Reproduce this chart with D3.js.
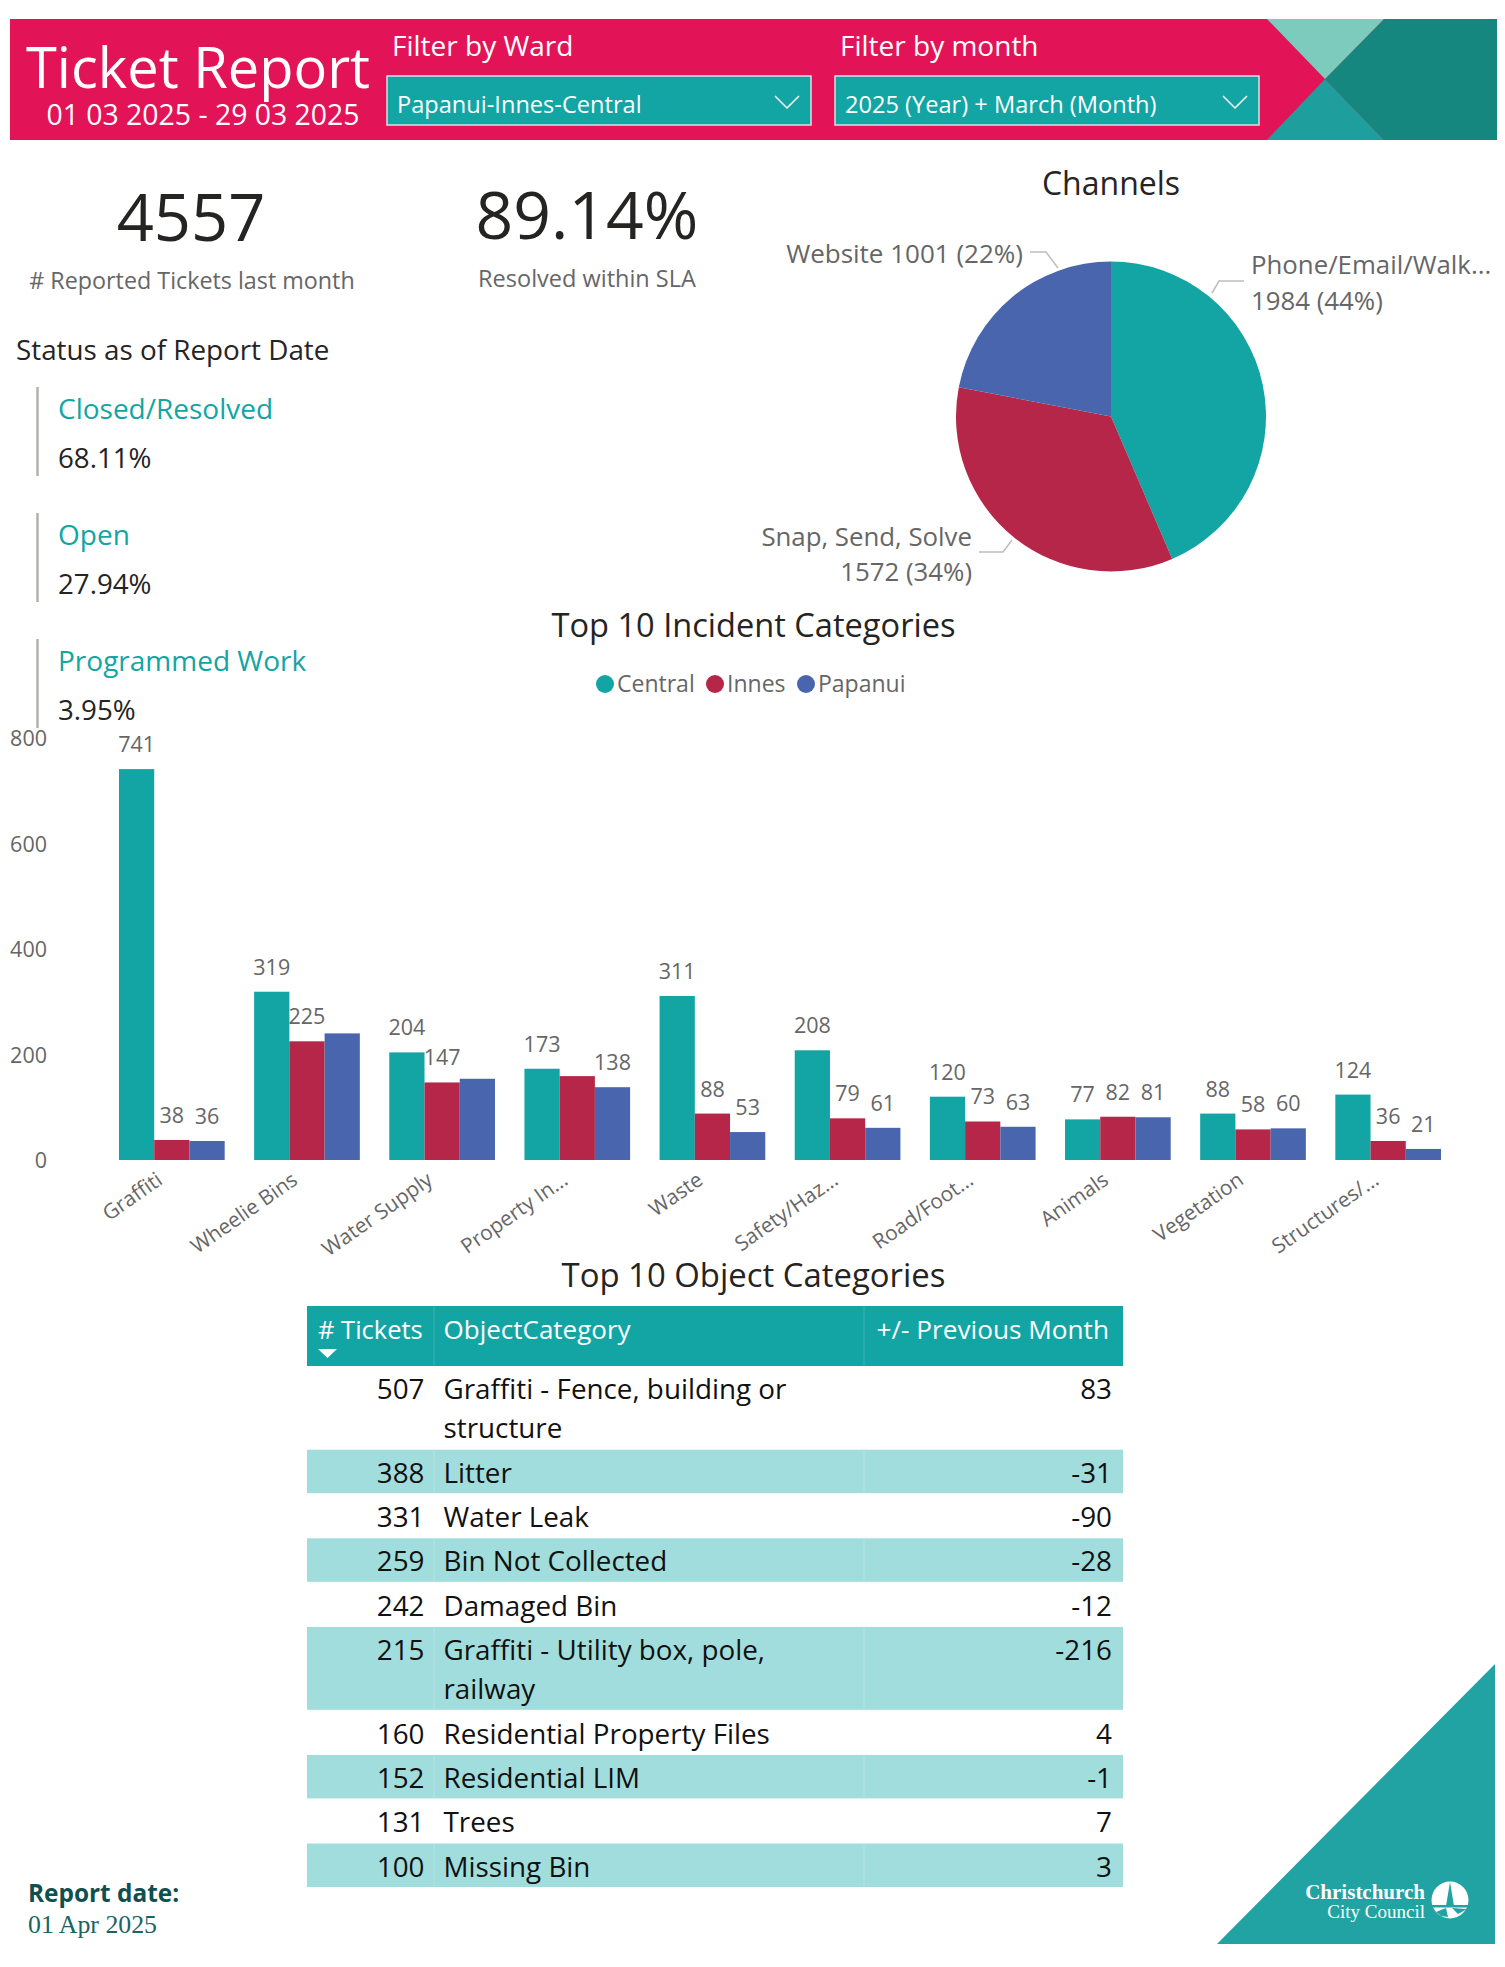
<!DOCTYPE html>
<html lang="en">
<head>
  <meta charset="UTF-8">
  <title>Ticket Report</title>
  <script src="https://d3js.org/d3.v7.min.js"></script>
  <style>
    body { margin: 0; background: #fff; overflow: hidden; }
    svg { display: block; font-family: "Open Sans", sans-serif; }
    .axis text { fill: #666; font-family: "Open Sans", sans-serif; }
    .axis path, .axis line { display: none; }
  </style>
</head>
<body>
<svg id="report" width="1505" height="1967"></svg>

<script>
// incident chart
const categories = ["Graffiti", "Wheelie Bins", "Water Supply", "Property In...", "Waste", "Safety/Haz...", "Road/Foot...", "Animals", "Vegetation", "Structures/..."];
const wards = ["Central", "Innes", "Papanui"];
const central = [741, 319, 204, 173, 311, 208, 120, 77, 88, 124];
const innes = [38, 225, 147, 159, 88, 79, 73, 82, 58, 36];
const papanui = [36, 240, 154, 138, 53, 61, 63, 81, 60, 21];
const yTicks = [0, 200, 400, 600, 800];
// power bi dropped these labels, bars only
const unlabelled = ["Wheelie Bins/Papanui", "Water Supply/Papanui", "Property In.../Innes"];

// channels pie
const channels = ["Phone/Email/Walk...", "Snap, Send, Solve", "Website"];
const channelValues = [1984, 1572, 1001];
const channelPct = ["44%", "34%", "22%"];

// status list
const statusNames = ["Closed/Resolved", "Open", "Programmed Work"];
const statusValues = ["68.11%", "27.94%", "3.95%"];

// table
const objectTickets = [507, 388, 331, 259, 242, 215, 160, 152, 131, 100];
const objectNames = ["Graffiti - Fence, building or structure", "Litter", "Water Leak", "Bin Not Collected", "Damaged Bin", "Graffiti - Utility box, pole, railway", "Residential Property Files", "Residential LIM", "Trees", "Missing Bin"];
const objectDelta = [83, -31, -90, -28, -12, -216, 4, -1, 7, 3];

const teal = "#12a5a4", crimson = "#b52648", blue = "#4865ae", pink = "#e31357", ink = "#252423", grey = "#666";
const wardColor = d3.scaleOrdinal(wards, [teal, crimson, blue]);

const svg = d3.select("#report");

function label(x, y, str, size, fill, anchor, extra) {
  const t = svg.append("text").attr("x", x).attr("y", y).attr("font-size", size)
    .attr("fill", fill).attr("text-anchor", anchor || "start").text(str);
  if (extra) extra(t);
  return t;
}
function poly(points, fill) {
  svg.append("polygon").attr("points", points.join(" ")).attr("fill", fill);
}

// ---- banner
svg.append("rect").attr("x", 10).attr("y", 19).attr("width", 1487).attr("height", 121).attr("fill", pink);
poly(["1384,19", "1497,19", "1497,140", "1384,140", "1325,79"], "#15877f");
poly(["1267,19", "1384,19", "1325,79"], "#7dcbbd");
poly(["1325,79", "1384,140", "1267,140"], "#1e9e9c");

label(198, 88, "Ticket Report", 56, "#fff", "middle");
label(203, 125, "01 03 2025 - 29 03 2025", 28.4, "#fff", "middle");

const filters = [
  { x: 387, title: "Filter by Ward", value: "Papanui-Innes-Central" },
  { x: 835, title: "Filter by month", value: "2025 (Year) + March (Month)" }
];
filters.forEach(f => {
  label(f.x + 5, 56, f.title, 28, "#fff");
  svg.append("rect").attr("x", f.x).attr("y", 76).attr("width", 424).attr("height", 49)
    .attr("fill", teal).attr("stroke", "#d8e4e4").attr("stroke-width", 1.5);
  label(f.x + 10, 113, f.value, 23.6, "#fff");
  svg.append("polyline").attr("points", `${f.x + 388},96 ${f.x + 400},108 ${f.x + 412},96`)
    .attr("fill", "none").attr("stroke", "#fff").attr("stroke-width", 1.5);
});

// ---- kpis
label(191, 241, "4557", 65, ink, "middle");
label(192, 289, "# Reported Tickets last month", 23.3, grey, "middle");
label(587, 239, "89.14%", 66, ink, "middle");
label(587, 287, "Resolved within SLA", 23.5, grey, "middle");

// ---- status list
label(16, 360, "Status as of Report Date", 27.8, ink);
const statusTop = [387, 513, 639];
statusNames.forEach((name, i) => {
  const y0 = statusTop[i];
  svg.append("line").attr("x1", 37.5).attr("x2", 37.5).attr("y1", y0).attr("y2", y0 + 89)
    .attr("stroke", "#b3b0ad").attr("stroke-width", 2.5);
  label(58, y0 + 32, name, 28, teal);
  label(58, y0 + 81, statusValues[i], 27.7, ink);
});

// ---- channels pie
label(1111, 195, "Channels", 32, ink, "middle");
const pieCx = 1111, pieCy = 416.5, pieR = 155;
const pieG = svg.append("g").attr("transform", `translate(${pieCx},${pieCy})`);
const slices = d3.pie().sort(null)(channelValues);
const arc = d3.arc().innerRadius(0).outerRadius(pieR);
pieG.selectAll("path").data(slices).join("path")
  .attr("d", arc)
  .attr("fill", (d, i) => wardColor(wards[i]));

// leader lines and their labels
const leaderColor = "#bdbdbd";
[
  "1244,281 1219,281 1212,293",
  "979,552 1003,552 1012,540",
  "1030,252 1046,252 1058,268"
].forEach(p => {
  svg.append("polyline").attr("points", p).attr("fill", "none").attr("stroke", leaderColor).attr("stroke-width", 1.5);
});
label(1251, 274, channels[0], 25.8, grey);
label(1251, 310, `${channelValues[0]} (${channelPct[0]})`, 25.8, grey);
label(972, 546, channels[1], 25.8, grey, "end");
label(972, 581, `${channelValues[1]} (${channelPct[1]})`, 25.8, grey, "end");
label(1023, 263, `${channels[2]} ${channelValues[2]} (${channelPct[2]})`, 26, grey, "end");

// ---- incident bars
label(753.5, 637, "Top 10 Incident Categories", 32.6, ink, "middle");

const legendX = [605, 715, 806];
wards.forEach((w, i) => {
  svg.append("circle").attr("cx", legendX[i]).attr("cy", 684).attr("r", 9).attr("fill", wardColor(w));
  label(legendX[i] + 12, 692, w, 23, grey);
});

const x0 = d3.scaleBand().domain(categories).range([119, 1441]).paddingInner(0.218);
const x1 = d3.scaleBand().domain(wards).range([0, x0.bandwidth()]);
const y = d3.scaleLinear().domain([0, 800]).range([1160, 738]);

const yAxis = svg.append("g").attr("class", "axis").attr("transform", "translate(47,1)")
  .call(d3.axisLeft(y).tickValues(yTicks).tickSize(0).tickPadding(0));
yAxis.selectAll("text").attr("font-size", 21.5);

const xAxis = svg.append("g").attr("class", "axis").attr("transform", "translate(0,1160)")
  .call(d3.axisBottom(x0).tickSize(0));
xAxis.selectAll("text")
  .attr("font-size", 20.8)
  .attr("text-anchor", "end")
  .attr("dy", 0).attr("y", 0)
  .attr("transform", "translate(-8,23) rotate(-35)");

const seriesByWard = { Central: central, Innes: innes, Papanui: papanui };
const barRows = categories.flatMap((c, i) => wards.map(w => ({ cat: c, ward: w, value: seriesByWard[w][i] })));

const barG = svg.append("g");
barG.selectAll("rect").data(barRows).join("rect")
  .attr("x", d => x0(d.cat) + x1(d.ward))
  .attr("y", d => y(d.value))
  .attr("width", x1.bandwidth())
  .attr("height", d => y(0) - y(d.value))
  .attr("fill", d => wardColor(d.ward));

barG.selectAll("text").data(barRows.filter(d => !unlabelled.includes(`${d.cat}/${d.ward}`))).join("text")
  .attr("x", d => x0(d.cat) + x1(d.ward) + x1.bandwidth() / 2)
  .attr("y", d => y(d.value) - 17)
  .attr("text-anchor", "middle")
  .attr("font-size", 21.5)
  .attr("fill", grey)
  .text(d => d.value);

// ---- object table
label(753.5, 1287, "Top 10 Object Categories", 32.9, ink, "middle");

const tableX = { left: 307, c1: 434, c2: 864, right: 1123 };
const tableFont = 27.8, lineGap = 39, singleRow = 44.3, doubleRow = 83.7;

function wrap(str, maxW) {
  const probe = svg.append("text").attr("font-size", tableFont);
  const lines = [];
  let cur = "";
  str.split(" ").forEach(word => {
    const next = cur ? cur + " " + word : word;
    probe.text(next);
    if (probe.node().getComputedTextLength() > maxW && cur) { lines.push(cur); cur = word; }
    else cur = next;
  });
  lines.push(cur);
  probe.remove();
  return lines;
}

svg.append("rect").attr("x", tableX.left).attr("y", 1306).attr("width", tableX.right - tableX.left).attr("height", 60).attr("fill", teal);
[tableX.c1, tableX.c2].forEach(cx => {
  svg.append("line").attr("x1", cx).attr("x2", cx).attr("y1", 1306).attr("y2", 1366).attr("stroke", "#3cb3b2").attr("stroke-width", 1);
});
label(318, 1339, "# Tickets", 25.5, "#fff");
label(443.5, 1339, "ObjectCategory", 26, "#fff");
label(1109, 1339, "+/- Previous Month", 26.2, "#fff", "end");
poly(["318,1349", "337,1349", "327.5,1358"], "#fff");

let rowY = 1366;
objectNames.forEach((name, i) => {
  const lines = wrap(name, 400);
  const h = lines.length > 1 ? doubleRow : singleRow;
  if (i % 2 === 1) {
    svg.append("rect").attr("x", tableX.left).attr("y", rowY).attr("width", tableX.right - tableX.left).attr("height", h - 0.8).attr("fill", "#a1dddc");
    [tableX.c1, tableX.c2].forEach(cx => {
      svg.append("line").attr("x1", cx).attr("x2", cx).attr("y1", rowY).attr("y2", rowY + h - 0.8).attr("stroke", "#b3e4e3").attr("stroke-width", 1);
    });
  }
  const base = rowY + 33;
  label(424.5, base, objectTickets[i], tableFont, "#111", "end");
  lines.forEach((l, j) => label(443.5, base + j * lineGap, l, tableFont, "#111"));
  label(1112, base, objectDelta[i], tableFont, "#111", "end");
  rowY += h;
});

// ---- footer
label(28, 1902, "Report date:", 24.4, "#0f4f4f", "start", t => t.attr("font-weight", 700));
label(28, 1933, "01 Apr 2025", 25.8, "#1a6464", "start", t => t.attr("font-family", "'Liberation Serif', serif"));

poly(["1495,1664", "1495,1944", "1217,1944"], "#22a3a3");
label(1425, 1899, "Christchurch", 21, "#fff", "end", t => t.attr("font-family", "'Liberation Serif', serif").attr("font-weight", 700));
label(1425, 1917.5, "City Council", 19, "#fff", "end", t => t.attr("font-family", "'Liberation Serif', serif"));

// council mark: white disc with spire and waterline
svg.append("circle").attr("cx", 1450).attr("cy", 1900).attr("r", 18.5).attr("fill", "#fff");
poly(["1450,1882", "1446,1906", "1454,1906"], "#22a3a3");
svg.append("rect").attr("x", 1431).attr("y", 1905).attr("width", 38).attr("height", 2.5).attr("fill", "#22a3a3");
poly(["1436,1912", "1446,1908", "1448,1917", "1441,1916"], "#22a3a3");
poly(["1452,1908", "1467,1909", "1458,1914"], "#22a3a3");
</script>
</body>
</html>
